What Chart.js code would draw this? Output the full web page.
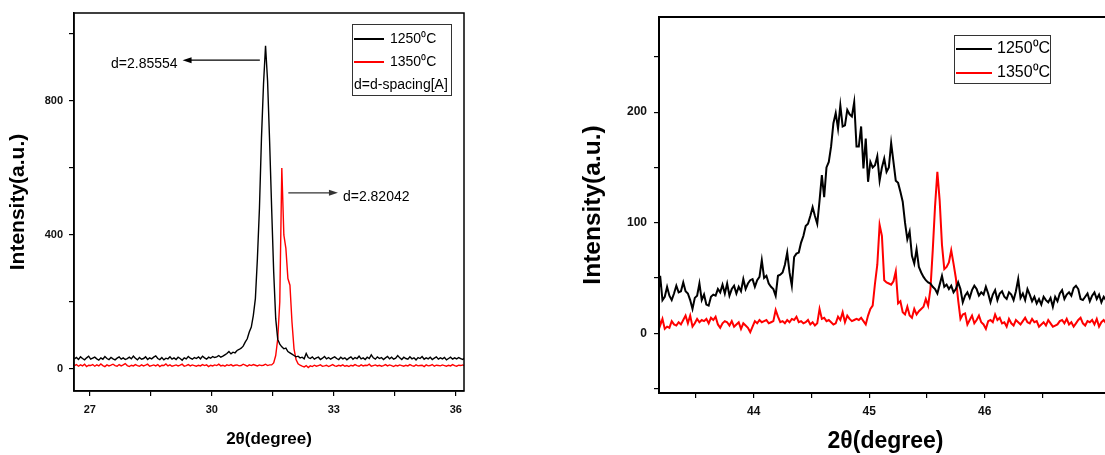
<!DOCTYPE html>
<html>
<head>
<meta charset="utf-8">
<script src="https://cdn.jsdelivr.net/npm/chart.js@4.4.1/dist/chart.umd.min.js"></script>
<style>
    html, body { margin: 0; padding: 0; background: #fff; overflow: hidden; width: 1105px; height: 455px; }
    #left_chart { position: absolute; left: 0; top: 0; }
    #right_chart { position: absolute; left: 560px; top: 0; }
</style>
</head>
<body>
<canvas id="left_chart" width="480" height="455"></canvas>
<canvas id="right_chart" width="560" height="455"></canvas>
<script>
// series names / colours (same for both panels)
const seriesNames = ['1250\u2070C', '1350\u2070C'];
const seriesColors = ['#000000', '#ff0000'];

// ---- left panel: 2theta 26.62 .. 36.22, step 0.05
const leftXStart = 26.62;
const leftXStep = 0.05;
const left1250 = [
    30,34,28,36,31,27,33,38,29,32,
    35,30,26,33,29,37,31,28,34,30,
    27,32,36,29,33,28,31,35,30,38,
    32,27,34,29,31,36,28,33,30,35,
    39,31,28,34,27,32,30,36,29,33,
    28,35,31,26,33,30,37,32,29,34,
    31,36,30,38,33,29,35,32,37,34,
    36,40,35,38,42,46,52,45,50,48,
    55,58,62,68,80,90,110,125,160,210,
    330,480,690,850,965,860,680,480,290,150,
    88,74,66,60,62,52,48,44,40,36,
    38,33,35,30,46,34,31,36,29,33,
    35,28,32,37,30,34,29,33,36,31,
    28,35,30,33,27,32,36,29,34,31,
    38,30,33,28,35,31,42,33,29,36,
    31,34,28,33,37,30,35,29,32,40,
    33,28,35,31,29,36,30,33,27,34,
    31,37,29,33,30,35,28,32,36,29,
    33,30,34,27,31,35,29,33,30,34,
    31,28,33
];
const left1350 = [
    10,13,8,12,9,14,7,11,10,13,
    8,12,9,15,10,7,12,9,11,14,
    10,8,13,9,12,16,10,7,11,9,
    13,10,8,12,9,11,14,8,10,12,
    9,13,7,11,10,15,9,12,8,10,
    12,9,11,14,8,10,13,9,12,10,
    8,11,9,13,10,12,7,11,9,12,
    10,14,9,11,8,12,10,13,9,11,
    12,9,10,14,11,8,12,10,13,11,
    9,12,10,11,14,10,12,12,18,40,
    90,200,600,400,360,270,250,140,60,28,
    15,11,8,6,10,4,9,7,11,8,
    10,12,8,9,11,7,10,13,9,8,
    11,9,12,8,10,7,11,9,13,10,
    8,12,9,11,10,14,8,10,12,9,
    11,8,10,13,9,12,10,7,11,9,
    12,10,8,11,9,13,10,8,12,9,
    10,11,7,12,9,10,13,8,11,10,
    9,12,10,8,11,9,13,10,8,11,
    10,12,9
];
const leftXTicks = [27, 28.5, 30, 31.5, 33, 34.5, 36];
const leftXLabels = [27, 30, 33, 36];
const leftYTicks = [0, 200, 400, 600, 800, 1000];
const leftYLabels = [0, 400, 800];
const leftNote = 'd=d-spacing[A]';
// d-spacing arrows (data units)
const arrowFrom = [31.18, 31.88];
const arrowTo = [29.28, 33.1];
const arrowAt = [922, 526];
const arrowText = ['d=2.85554', 'd=2.82042'];

// ---- right panel: 2theta 43.17 .. 47.07, step 0.02
const rightXStart = 43.17;
const rightXStep = 0.02;
const right1250 = [
    30,52,30,33,42,34,30,36,43,37,
    38,46,38,36,30,22,32,34,45,30,
    35,26,25,33,35,34,40,37,44,36,
    45,34,40,43,36,42,38,49,40,45,
    48,49,42,48,51,66,50,52,45,42,
    40,34,52,53,55,62,73,55,43,69,
    72,73,82,88,97,99,106,114,106,99,
    120,143,123,150,155,169,190,199,185,206,
    187,188,202,198,196,209,169,169,187,149,
    176,137,155,150,152,160,138,150,158,146,
    150,172,155,138,136,128,119,100,85,92,
    70,63,76,60,55,51,48,46,45,42,
    40,36,44,52,42,44,40,43,37,40,
    46,40,28,34,37,32,39,43,40,34,
    37,35,42,36,28,35,39,30,36,38,
    33,31,37,35,30,38,49,32,36,30,
    40,35,29,33,27,31,26,33,30,28,
    32,24,33,29,36,39,31,35,37,34,
    41,43,40,31,30,33,36,29,34,37,
    31,35,28,33,30,32
];
const right1350 = [
    21,7,13,4,6,5,11,8,7,10,
    8,12,16,9,16,6,9,13,10,12,
    11,13,9,14,12,15,8,5,9,11,
    10,7,11,6,8,10,4,9,7,5,
    1,6,11,9,12,10,11,12,9,10,
    11,21,15,10,11,9,12,10,13,12,
    15,10,11,9,10,12,8,10,7,9,
    22,13,14,11,12,10,8,9,15,12,
    19,10,16,13,11,12,13,12,14,11,
    8,16,22,25,45,62,98,88,48,46,
    45,44,47,56,27,29,19,17,24,16,
    14,22,17,20,22,24,31,25,40,75,
    115,146,120,80,58,60,64,75,63,50,
    30,13,17,18,8,12,16,9,12,16,
    10,8,4,11,12,10,17,12,14,9,
    10,6,13,9,7,12,10,8,11,14,
    10,9,13,10,11,6,8,10,7,12,
    9,6,7,8,11,12,9,13,8,10,
    6,9,12,14,9,7,11,10,12,8,
    13,6,10,12,9,11
];
const rightXTicks = [43.5, 44, 44.5, 45, 45.5, 46, 46.5];
const rightXLabels = [44, 45, 46];
const rightYTicks = [-50, 0, 50, 100, 150, 200, 250];
const rightYLabels = [0, 100, 200];

const FONT = '"Liberation Sans", Arial, Helvetica, sans-serif';

function toPoints(ys, start, step) {
    return ys.map((y, i) => ({x: +(start + step * i).toFixed(2), y: y}));
}

// frame box, inline legend and d-spacing arrows
const xrdDecor = {
    id: 'xrdDecor',
    afterDatasetsDraw(chart, args, opts) {
        const ctx = chart.ctx;
        const a = chart.chartArea;
        ctx.save();
        ctx.strokeStyle = '#000';
        ctx.lineWidth = opts.frameWidth;
        ctx.strokeRect(a.left, a.top, a.right - a.left, a.bottom - a.top);

        // legend
        const lg = opts.legend;
        ctx.lineWidth = 1;
        ctx.strokeStyle = '#333';
        ctx.strokeRect(lg.x + 0.5, lg.y + 0.5, lg.w, lg.h);
        ctx.font = lg.size + 'px ' + FONT;
        ctx.textBaseline = 'middle';
        ctx.textAlign = 'left';
        ctx.fillStyle = '#000';
        chart.data.datasets.forEach((ds, i) => {
            const y = lg.y + lg.rowTop + i * lg.rowGap;
            ctx.strokeStyle = ds.borderColor;
            ctx.lineWidth = 2;
            ctx.beginPath();
            ctx.moveTo(lg.x + 2, y);
            ctx.lineTo(lg.x + 2 + lg.line, y);
            ctx.stroke();
            ctx.fillText(ds.label, lg.x + lg.textX, y);
        });
        if (lg.note) {
            ctx.fillText(lg.note, lg.x + 2, lg.y + lg.rowTop + chart.data.datasets.length * lg.rowGap);
        }

        // arrows
        const arrows = opts.arrows || [];
        arrows.forEach(ar => {
            const x0 = chart.scales.x.getPixelForValue(ar.from);
            const x1 = chart.scales.x.getPixelForValue(ar.to);
            const y = chart.scales.y.getPixelForValue(ar.at);
            const dir = x1 > x0 ? 1 : -1;
            ctx.strokeStyle = ar.color;
            ctx.fillStyle = ar.color;
            ctx.lineWidth = 1.2;
            ctx.beginPath();
            ctx.moveTo(x0, y);
            ctx.lineTo(x1 - dir * 7, y);
            ctx.stroke();
            ctx.beginPath();
            ctx.moveTo(x1, y);
            ctx.lineTo(x1 - dir * 9, y - 3);
            ctx.lineTo(x1 - dir * 9, y + 3);
            ctx.closePath();
            ctx.fill();
            ctx.fillStyle = '#000';
            ctx.font = '14px ' + FONT;
            ctx.textAlign = dir < 0 ? 'right' : 'left';
            ctx.textBaseline = 'middle';
            ctx.fillText(ar.text, x1 + dir * 5, y + 4);
        });
        ctx.restore();
    }
};

function makeAxis(c) {
    return {
        type: 'linear',
        min: c.min,
        max: c.max,
        afterBuildTicks: (scale) => {
            scale.ticks = c.ticks.map(v => ({value: v}));
        },
        afterFit: (scale) => {
            if (c.horizontal) scale.height = c.size; else scale.width = c.size;
        },
        ticks: {
            autoSkip: false,
            maxRotation: 0,
            padding: c.tickPad,
            color: '#111',
            font: {family: FONT, size: c.tickSize, weight: 'bold'},
            callback: (v) => c.labels.includes(v) ? String(v) : ''
        },
        grid: {
            display: true,
            drawOnChartArea: false,
            drawTicks: true,
            tickLength: 5,
            color: '#000',
            lineWidth: 1.2
        },
        border: {display: true, color: '#000', width: 1.5},
        title: {
            display: true,
            text: c.title,
            color: '#000',
            padding: c.titlePad,
            font: {family: FONT, size: c.titleSize, weight: 'bold', lineHeight: 1.2}
        }
    };
}

function buildChart(id, c) {
    return new Chart(document.getElementById(id), {
        type: 'line',
        data: {
            datasets: c.series.map((ys, k) => ({
                label: seriesNames[k],
                data: toPoints(ys, c.xStart, c.xStep),
                borderColor: seriesColors[k],
                borderWidth: c.lineWidth,
                pointRadius: 0,
                tension: 0,
                fill: false
            }))
        },
        options: {
            responsive: false,
            animation: false,
            events: [],
            layout: {padding: c.padding},
            plugins: {
                legend: {display: false},
                tooltip: {enabled: false},
                xrdDecor: c.decor
            },
            scales: {
                x: makeAxis(c.x),
                y: makeAxis(c.y)
            }
        },
        plugins: [xrdDecor]
    });
}

buildChart('left_chart', {
    series: [left1250, left1350],
    xStart: leftXStart, xStep: leftXStep,
    lineWidth: 1.4,
    padding: {left: 0, top: 13, right: 16, bottom: 0},
    x: {min: 26.61, max: 36.2, ticks: leftXTicks, labels: leftXLabels, horizontal: true, size: 64,
        tickPad: 7, tickSize: 11, title: '2\u03b8(degree)', titleSize: 17, titlePad: {top: 0, bottom: 5}},
    y: {min: -66, max: 1063, ticks: leftYTicks, labels: leftYLabels, horizontal: false, size: 74,
        tickPad: 6, tickSize: 11, title: 'Intensity(a.u.)', titleSize: 21, titlePad: {top: 6, bottom: 0}},
    decor: {
        frameWidth: 1.5,
        legend: {x: 352, y: 24, w: 99, h: 71, rowTop: 15, rowGap: 23, line: 30, textX: 38, size: 14, note: leftNote},
        arrows: arrowText.map((t, i) => ({from: arrowFrom[i], to: arrowTo[i], at: arrowAt[i], text: t,
            color: i === 0 ? '#000' : '#333'}))
    }
});

buildChart('right_chart', {
    series: [right1250, right1350],
    xStart: rightXStart, xStep: rightXStep,
    lineWidth: 2,
    padding: {left: 0, top: 17, right: 8, bottom: 0},
    x: {min: 43.18, max: 47.102, ticks: rightXTicks, labels: rightXLabels, horizontal: true, size: 62,
        tickPad: 6, tickSize: 12, title: '2\u03b8(degree)', titleSize: 23, titlePad: {top: 0, bottom: 0}},
    y: {min: -54, max: 286, ticks: rightYTicks, labels: rightYLabels, horizontal: false, size: 99,
        tickPad: 7, tickSize: 12, title: 'Intensity(a.u.)', titleSize: 24.5, titlePad: {top: 19, bottom: 0}},
    decor: {
        frameWidth: 2,
        legend: {x: 394, y: 35, w: 96, h: 48, rowTop: 14, rowGap: 24, line: 36, textX: 43, size: 16, note: ''},
        arrows: []
    }
});
</script>
</body>
</html>
